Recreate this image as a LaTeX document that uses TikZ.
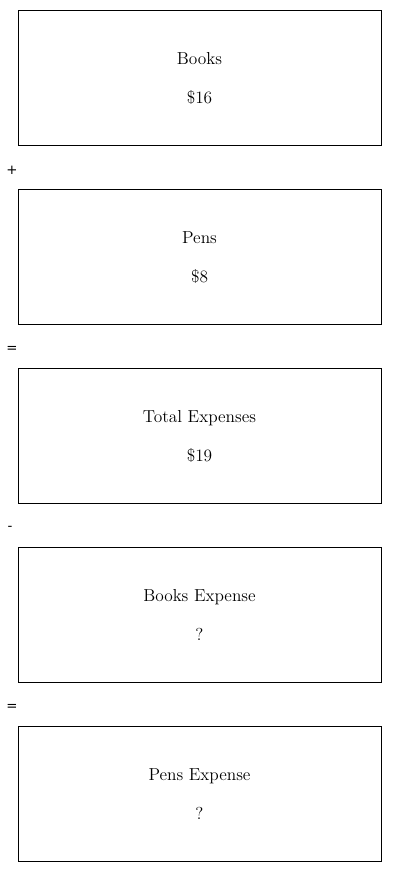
\documentclass[tikz,border=0pt]{standalone}
\usepackage{fontspec}
\newfontfamily\opfont{DejaVu Sans}
\begin{document}
\begin{tikzpicture}[x=0.75pt,y=-0.75pt,
  box/.style={draw=black,line width=0.6pt,minimum width=363*0.75pt,minimum height=135*0.75pt,inner sep=0pt},
  lbl/.style={font=\fontsize{13}{15}\selectfont,inner sep=0pt,anchor=base},
  opl/.style={font=\opfont\fontsize{10}{12}\selectfont,inner sep=0pt}]
\useasboundingbox (0,0) rectangle (400,872);
\node[box] (b1) at (199.5,77.5) {};
\node[box] (b2) at (199.5,256.5) {};
\node[box] (b3) at (199.5,435.5) {};
\node[box] (b4) at (199.5,614.5) {};
\node[box] (b5) at (199.5,793.5) {};
\node[lbl] (t1) at (199.5,64.5) {Books};
\node[lbl] (v1) at (199.5,103.5) {\$16};
\node[lbl] (t2) at (199.5,243.5) {Pens};
\node[lbl] (v2) at (199.5,282.5) {\$8};
\node[lbl] (t3) at (199.5,422.5) {Total Expenses};
\node[lbl] (v3) at (199.5,461.5) {\$19};
\node[lbl] (t4) at (199.5,601.5) {Books Expense};
\node[lbl] (v4) at (199.5,640.5) {?};
\node[lbl] (t5) at (199.5,780.5) {Pens Expense};
\node[lbl] (v5) at (199.5,819.5) {?};
\node[opl] (o1) at (12,170) {+};
\node[opl] (o2) at (12,349) {=};
\node[opl] (o3) at (10,528) {-};
\node[opl] (o4) at (12,707) {=};
\end{tikzpicture}
\end{document}
